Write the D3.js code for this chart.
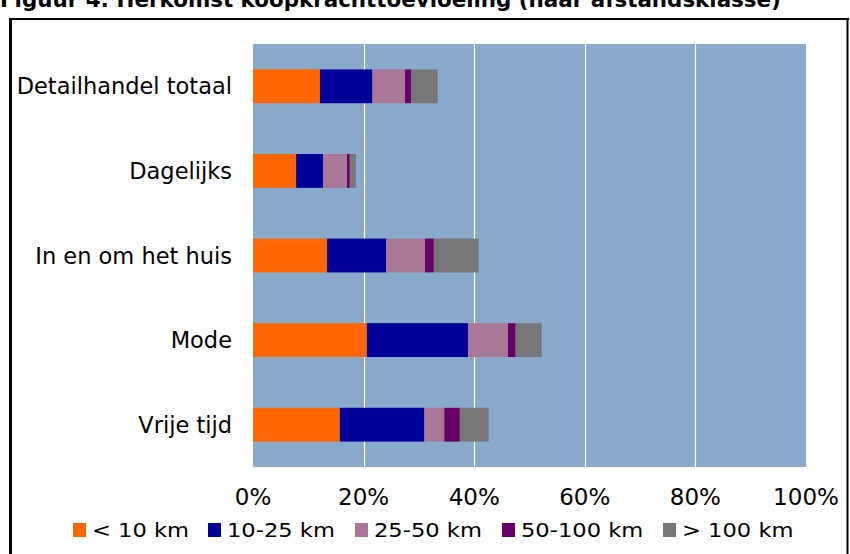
<!DOCTYPE html>
<html>
<head>
<meta charset="utf-8">
<script src="https://cdn.jsdelivr.net/npm/d3@7"></script>
<style>
  body { margin: 0; background: #fff; }
  svg { display: block; }
</style>
</head>
<body>
<svg id="chart" width="850" height="554"></svg>
<script>
const categories = ["Detailhandel totaal", "Dagelijks", "In en om het huis", "Mode", "Vrije tijd"];
const seriesNames = ["< 10 km", "10-25 km", "25-50 km", "50-100 km", "> 100 km"];
const seriesColors = ["#ff6600", "#000099", "#a97896", "#660066", "#777777"];

// aandeel per afstandsklasse (%), volgorde als categories
const lt10 = [12.1, 7.8, 13.4, 20.6, 15.7];
const km10to25 = [9.5, 4.9, 10.7, 18.3, 15.3];
const km25to50 = [5.9, 4.3, 7.0, 7.2, 3.6];
const km50to100 = [1.1, 0.5, 1.6, 1.4, 2.8];
const gt100 = [4.8, 1.1, 8.1, 4.7, 5.2];

const ticks = [0, 20, 40, 60, 80, 100];

const seriesValues = [lt10, km10to25, km25to50, km50to100, gt100];
const rows = categories.map((c, i) => {
    const row = { cat: c };
    seriesNames.forEach((s, j) => { row[s] = seriesValues[j][i]; });
    return row;
});

const svg = d3.select("#chart");

const plot = { left: 253, right: 806, top: 44, bottom: 467 };

// title, clipped at the top like in the original
svg.append("text")
    .attr("x", 0)
    .attr("y", 7)
    .attr("font-family", "DejaVu Sans")
    .attr("font-weight", "bold")
    .attr("font-size", 21.4)
    .attr("fill", "#000")
    .text("Figuur 4: Herkomst koopkrachttoevloeiing (naar afstandsklasse)");

// frame
svg.append("line")
    .attr("x1", 9).attr("x2", 849)
    .attr("y1", 19).attr("y2", 19)
    .attr("stroke", "#000").attr("stroke-width", 2);
svg.append("line")
    .attr("x1", 10.5).attr("x2", 10.5)
    .attr("y1", 18).attr("y2", 554)
    .attr("stroke", "#000").attr("stroke-width", 3);
svg.append("line")
    .attr("x1", 847.5).attr("x2", 847.5)
    .attr("y1", 18).attr("y2", 554)
    .attr("stroke", "#000").attr("stroke-width", 2);

const x = d3.scaleLinear().domain([0, 100]).range([plot.left, plot.right]);
const y = d3.scaleBand()
    .domain(categories)
    .range([plot.top, plot.bottom])
    .paddingInner(0.6)
    .paddingOuter(0.3);

svg.append("rect")
    .attr("x", plot.left)
    .attr("y", plot.top)
    .attr("width", plot.right - plot.left)
    .attr("height", plot.bottom - plot.top)
    .attr("fill", "#8aaacc");

svg.append("g")
    .selectAll("line")
    .data(ticks.filter(t => t > 0 && t < 100))
    .enter().append("line")
    .attr("x1", d => Math.round(x(d)) + 0.5)
    .attr("x2", d => Math.round(x(d)) + 0.5)
    .attr("y1", plot.top)
    .attr("y2", plot.bottom)
    .attr("stroke", "#fff")
    .attr("stroke-width", 1.2);

const stack = d3.stack().keys(seriesNames);
const layers = stack(rows);

svg.append("g")
    .selectAll("g")
    .data(layers)
    .enter().append("g")
    .attr("fill", (d, i) => seriesColors[i])
    .selectAll("rect")
    .data(d => d)
    .enter().append("rect")
    .attr("x", d => x(d[0]))
    .attr("y", d => y(d.data.cat))
    .attr("width", d => x(d[1]) - x(d[0]))
    .attr("height", y.bandwidth());

// category labels
svg.append("g")
    .selectAll("text")
    .data(categories)
    .enter().append("text")
    .attr("x", 232)
    .attr("y", d => y(d) + y.bandwidth() / 2)
    .attr("dy", "0.36em")
    .attr("text-anchor", "end")
    .attr("font-family", "DejaVu Sans")
    .attr("font-size", 22.5)
    .text(d => d);

// x tick labels
svg.append("g")
    .selectAll("text")
    .data(ticks)
    .enter().append("text")
    .attr("x", d => x(d))
    .attr("y", 505)
    .attr("text-anchor", "middle")
    .attr("font-family", "DejaVu Sans")
    .attr("font-size", 23)
    .text(d => d + "%");

// legend (text slightly stretched horizontally, like the original)
const legendX = [73, 208, 355, 502, 663];
const legend = svg.append("g")
    .selectAll("g")
    .data(seriesNames)
    .enter().append("g")
    .attr("transform", (d, i) => `translate(${legendX[i]},0)`);

legend.append("rect")
    .attr("x", 0)
    .attr("y", 523)
    .attr("width", 13)
    .attr("height", 14)
    .attr("fill", (d, i) => seriesColors[i]);

legend.append("text")
    .attr("transform", "translate(19,537) scale(1.13,1)")
    .attr("font-family", "DejaVu Sans")
    .attr("font-size", 20)
    .text(d => d);
</script>
</body>
</html>
